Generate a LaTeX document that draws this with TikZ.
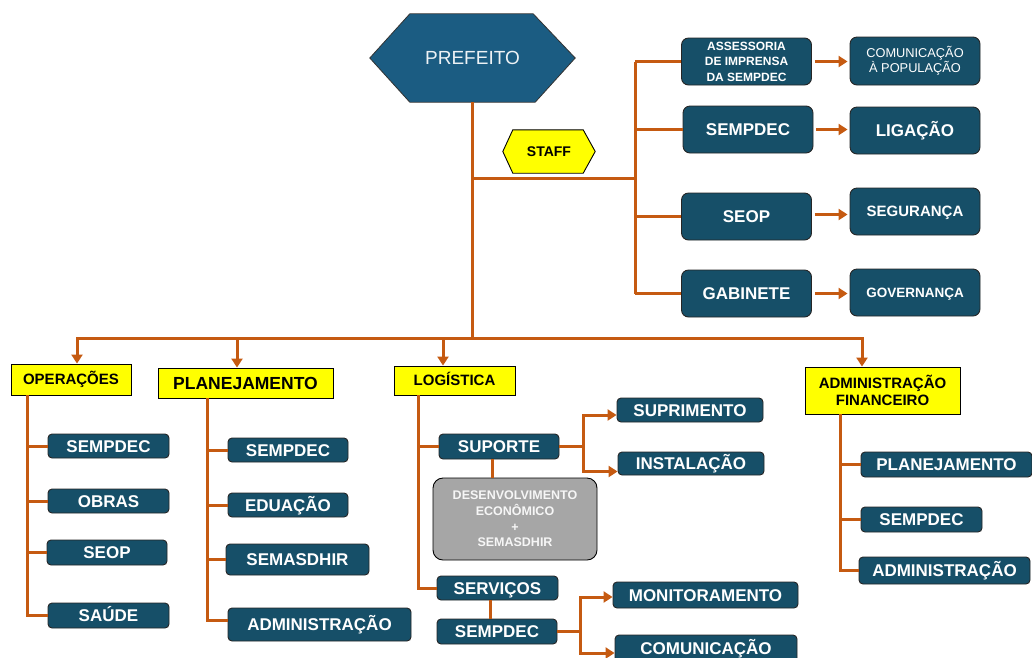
\documentclass[tikz,border=0pt]{standalone}
\usepackage{fontspec}
\setmainfont{Liberation Sans}
\usetikzlibrary{arrows.meta}
\definecolor{org}{RGB}{197,90,17}
\definecolor{dk}{RGB}{22,79,104}
\definecolor{pf}{RGB}{27,92,130}
\definecolor{gr}{RGB}{166,166,166}
\definecolor{ylw}{RGB}{255,255,0}
\newcommand{\fs}[1]{\fontsize{#1}{#1}\selectfont}
\newcommand{\fsb}[2]{\fontsize{#1}{#2}\selectfont}
\begin{document}
\begin{tikzpicture}[x=1pt,y=-1pt,
 dbox/.style={draw=black!85, line width=0.9pt, fill=dk, rounded corners=4pt, inner sep=0pt,
   text=white, font=\bfseries\fs{17}, text height=12.2pt, text depth=0pt},
 sbox/.style={dbox, rounded corners=7pt, minimum width=130, minimum height=47},
 ybox/.style={draw=black, line width=0.9pt, fill=ylw, inner sep=0pt, align=center,
   font=\bfseries\fs{15}, text height=10.8pt, text depth=0pt},
 multi/.style={text height=, text depth=, align=center},
 ln/.style={draw=org, line width=3pt},
 arw/.style={ln, -{Triangle[length=9pt,width=11pt]}},
]
\useasboundingbox (0,0) rectangle (1032,657);

% ---------- PREFEITO ----------
\node (pref) [minimum width=205, minimum height=88, inner sep=0pt] at (472.5,58) {};
\fill[pf, draw=black!80, line width=0.8pt] (pref.west) -- ([xshift=40]pref.north west) -- ([xshift=-42]pref.north east)
  -- (pref.east) -- ([xshift=-40]pref.south east) -- ([xshift=40]pref.south west) -- cycle;
\node[text=white!92!pf, font=\fs{19}] at (pref) {PREFEITO};

% ---------- STAFF ----------
\node (staffbg) [minimum width=92, minimum height=43, inner sep=0pt] at (549,151.5) {};
\fill[ylw, draw=black, line width=0.9pt] (staffbg.west) -- ([xshift=10]staffbg.north west) -- ([xshift=-12]staffbg.north east)
  -- (staffbg.east) -- ([xshift=-12]staffbg.south east) -- ([xshift=10]staffbg.south west) -- cycle;
\node[font=\bfseries\fs{14}] (staff) at (staffbg) {STAFF};

% ---------- staff boxes ----------
\node[sbox, multi, font=\bfseries\fsb{12}{15.5}]
  (ass) at (746.5,61.5) {ASSESSORIA\\DE IMPRENSA\\DA SEMPDEC};
\node[sbox, multi, font=\fsb{12.8}{15}, minimum height=48]
  (com1) at (915,61) {COMUNICAÇÃO\\À POPULAÇÃO};
\node[sbox] (sem) at (748,129.5) {SEMPDEC};
\node[sbox] (lig) at (915,130.5) {LIGAÇÃO};
\node[sbox] (seop) at (746.5,216.5) {SEOP};
\node[sbox, font=\bfseries\fs{15}, text height=10.8pt] (seg) at (915,211.5) {SEGURANÇA};
\node[sbox] (gab) at (746.5,293.5) {GABINETE};
\node[sbox, font=\bfseries\fs{13.5}, text height=9.7pt] (gov) at (915,292.5) {GOVERNANÇA};

% ---------- level boxes ----------
\node[ybox, minimum width=120, minimum height=31] (ops) at (71,379.5) {OPERAÇÕES};
\node[ybox, minimum width=175, minimum height=30, font=\bfseries\fs{17.5}, text height=12.5pt] (plan) at (245.5,383) {PLANEJAMENTO};
\node[ybox, minimum width=121, minimum height=29] (log) at (454.5,380.5) {LOGÍSTICA};
\node[ybox, multi, minimum width=155, minimum height=47, font=\bfseries\fsb{15}{16.5}] (adm) at (882.5,390.5) {ADMINISTRAÇÃO\\FINANCEIRO};

% ---------- operações ----------
\node[dbox, minimum width=121, minimum height=24] (o1) at (108.5,446) {SEMPDEC};
\node[dbox, minimum width=121, minimum height=24] (o2) at (108.5,501) {OBRAS};
\node[dbox, minimum width=120, minimum height=25] (o3) at (107,552.5) {SEOP};
\node[dbox, minimum width=121, minimum height=25] (o4) at (108.5,615.5) {SAÚDE};

% ---------- planejamento ----------
\node[dbox, minimum width=120, minimum height=24] (p1) at (288,450) {SEMPDEC};
\node[dbox, minimum width=120, minimum height=24] (p2) at (288,505) {EDUAÇÃO};
\node[dbox, minimum width=143, minimum height=31] (p3) at (297.5,559.5) {SEMASDHIR};
\node[dbox, minimum width=183, minimum height=33] (p4) at (319.5,624.5) {ADMINISTRAÇÃO};

% ---------- logística ----------
\node[dbox, minimum width=120, minimum height=25] (l1) at (499,446.5) {SUPORTE};
\node[draw=black, line width=0.9pt, fill=gr, rounded corners=10pt, minimum width=164, minimum height=82,
  inner sep=0pt, align=center, text=white!90!gr, font=\bfseries\fsb{12.5}{15.7}]
  (gray) at (515,519) {DESENVOLVIMENTO\\ECONÔMICO\\+\\SEMASDHIR};
\node[dbox, minimum width=121, minimum height=24] (l2) at (497.5,588) {SERVIÇOS};
\node[dbox, minimum width=120, minimum height=25] (l3) at (497,631.5) {SEMPDEC};
\node[dbox, minimum width=146, minimum height=24] (sup) at (690,410) {SUPRIMENTO};
\node[dbox, minimum width=146, minimum height=23] (ins) at (691,463.5) {INSTALAÇÃO};
\node[dbox, minimum width=185, minimum height=26] (mon) at (705.5,595) {MONITORAMENTO};
\node[dbox, minimum width=182, minimum height=27] (com2) at (706,648.5) {COMUNICAÇÃO};

% ---------- administração financeiro ----------
\node[dbox, minimum width=171, minimum height=25] (a1) at (946.5,464.5) {PLANEJAMENTO};
\node[dbox, minimum width=121, minimum height=25] (a2) at (921.5,519.5) {SEMPDEC};
\node[dbox, minimum width=171, minimum height=27] (a3) at (944.5,570.5) {ADMINISTRAÇÃO};

% ---------- connectors: top ----------
\coordinate (sh) at (635,178);
\coordinate (b1) at (77,338);
\coordinate (b2) at (237,338);
\coordinate (b3) at (443,338);
\coordinate (b4) at (862,338);
\draw[ln] (pref.south) -- (pref.south |- b1);
\draw[ln] (pref.south |- sh) -- (sh);
\draw[ln] (sh |- ass.west) -- (sh |- gab.west);
\foreach \n in {ass,sem,seop,gab} \draw[ln] (sh |- \n.west) -- (\n.west);
\draw[arw, shorten <=3pt, shorten >=2pt] (ass.east) -- (ass.east -| com1.west);
\draw[arw, shorten <=3pt, shorten >=2pt] (sem.east) -- (sem.east -| lig.west);
\draw[arw, shorten <=3pt, shorten >=2pt] ([yshift=2]seop.east) -- ([yshift=2]seop.east -| seg.west);
\draw[arw, shorten <=3pt, shorten >=2pt] (gab.east) -- (gab.east -| gov.west);

% bus
\draw[arw] (pref.south |- b1) -- (b1) -- (b1 |- ops.north);
\draw[arw] (pref.south |- b4) -- (b4) -- (b4 |- adm.north);
\draw[arw] (b2) -- (b2 |- plan.north);
\draw[arw] (b3) -- (b3 |- log.north);

% operações
\coordinate (ov) at (27,0);
\draw[ln] (ov |- ops.south) |- (o4.west);
\foreach \n in {o1,o2,o3} \draw[ln] (ov |- \n.west) -- (\n.west);

% planejamento
\coordinate (pv) at (207,0);
\draw[ln] (pv |- plan.south) |- ([yshift=4]p4.west);
\foreach \n in {p1,p2,p3} \draw[ln] (pv |- \n.west) -- (\n.west);

% logística
\coordinate (lv) at (418,0);
\draw[ln] (lv |- log.south) |- (l2.west);
\draw[ln] (lv |- l1.west) -- (l1.west);
\draw[ln] ([xshift=-7]l1.south) -- ([xshift=-7]l1.south |- gray.north);
\draw[ln] ([xshift=-7.5]l2.south) -- ([xshift=-7.5]l2.south |- l3.north);
\coordinate (f1) at (583,0);
\draw[ln] (l1.east) -- (f1 |- l1.east);
\draw[arw] (f1 |- l1.east) |- ([yshift=-5]sup.west);
\draw[arw] (f1 |- l1.east) |- ([yshift=-8]ins.west);
\coordinate (f2) at (580,0);
\draw[ln] (l3.east) -- (f2 |- l3.east);
\draw[arw] (f2 |- l3.east) |- ([yshift=-2]mon.west);
\draw[arw] (f2 |- l3.east) |- ([yshift=-4.5]com2.west);

% administração financeiro
\coordinate (av) at (840,0);
\draw[ln] (av |- adm.south) |- (a3.west);
\draw[ln] (av |- a1.west) -- (a1.west);
\draw[ln] (av |- a2.west) -- (a2.west);
\end{tikzpicture}
\end{document}
